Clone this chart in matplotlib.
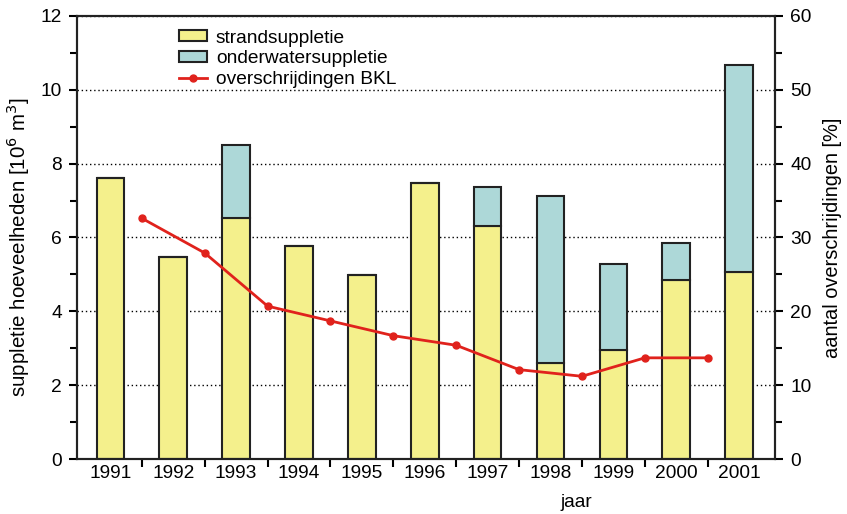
import numpy as np
import matplotlib
matplotlib.use("Agg")
import matplotlib.pyplot as plt
from matplotlib.ticker import MultipleLocator, FixedLocator

plt.rcParams['font.family'] = ['Liberation Sans', 'DejaVu Sans']

# data
years = [1991, 1992, 1993, 1994, 1995, 1996, 1997, 1998, 1999, 2000, 2001]
strand = [7.62, 5.48, 6.52, 5.78, 4.98, 7.47, 6.32, 2.60, 2.95, 4.84, 5.06]
onderwater = [0.0, 0.0, 1.98, 0.0, 0.0, 0.0, 1.05, 4.52, 2.33, 1.00, 5.62]
bkl_x = [1991.5, 1992.5, 1993.5, 1994.5, 1995.5, 1996.5, 1997.5, 1998.5, 1999.5, 2000.5]
bkl = [32.6, 27.9, 20.7, 18.7, 16.7, 15.4, 12.1, 11.2, 13.7, 13.7]

yellow = "#F4F08C"
teal = "#ADD8D8"
red = "#E0221C"
edge = "#222222"
fs = 13.8

fig = plt.figure(figsize=(8.47, 5.14), dpi=100)
ax = fig.add_axes([0.091, 0.107, 0.824, 0.862])
ax2 = ax.twinx()

# gridlines
ax.set_axisbelow(True)
ax.yaxis.grid(True, which="major", color="black", linestyle=(0, (1, 2)), linewidth=1.0)

b1 = ax.bar(years, strand, width=0.44, color=yellow, edgecolor=edge, linewidth=1.5,
            label="strandsuppletie")
b2 = ax.bar(years, onderwater, width=0.44, bottom=strand, color=teal, edgecolor=edge,
            linewidth=1.5, label="onderwatersuppletie")

ln, = ax2.plot(bkl_x, bkl, color=red, linewidth=2, marker="o", markersize=5,
               label="overschrijdingen BKL")

ax.set_xlim(1990.47, 2001.57)
ax.set_ylim(0, 12)
ax2.set_ylim(0, 60)

ax.set_xticks(years)
ax.set_xticklabels([str(y) for y in years])
ax.xaxis.set_minor_locator(FixedLocator(bkl_x))
ax.tick_params(axis="x", which="major", length=0, pad=4, labelsize=fs)
ax.tick_params(axis="x", which="minor", length=6, width=1.5, direction="out")

ax.yaxis.set_major_locator(MultipleLocator(2))
ax.yaxis.set_minor_locator(MultipleLocator(1))
ax.tick_params(axis="y", which="major", length=6, width=1.5, labelsize=fs, pad=5)
ax.tick_params(axis="y", which="minor", length=5, width=1.5)

ax2.yaxis.set_major_locator(MultipleLocator(10))
ax2.yaxis.set_minor_locator(MultipleLocator(5))
ax2.tick_params(axis="y", which="major", length=6, width=1.5, labelsize=fs, pad=5)
ax2.tick_params(axis="y", which="minor", length=5, width=1.5)

for a in (ax, ax2):
    for s in a.spines.values():
        s.set_linewidth(1.5)
        s.set_color(edge)

ax.set_ylabel("suppletie hoeveelheden [10$^6$ m$^3$]", fontsize=14.8)
ax.yaxis.set_label_coords(-0.064, 0.478)
ax2.set_ylabel("aantal overschrijdingen [%]", fontsize=14.4, labelpad=8)
ax.set_xlabel("jaar", fontsize=fs)
ax.xaxis.set_label_coords(0.716, -0.08)

ax.legend(handles=[b1, b2, ln], loc="upper left", bbox_to_anchor=(0.129, 0.995),
          frameon=False, fontsize=fs, handlelength=1.5, handleheight=0.5,
          labelspacing=0.2, handletextpad=0.45, borderaxespad=0.2)

fig.savefig("out.png", dpi=100)
